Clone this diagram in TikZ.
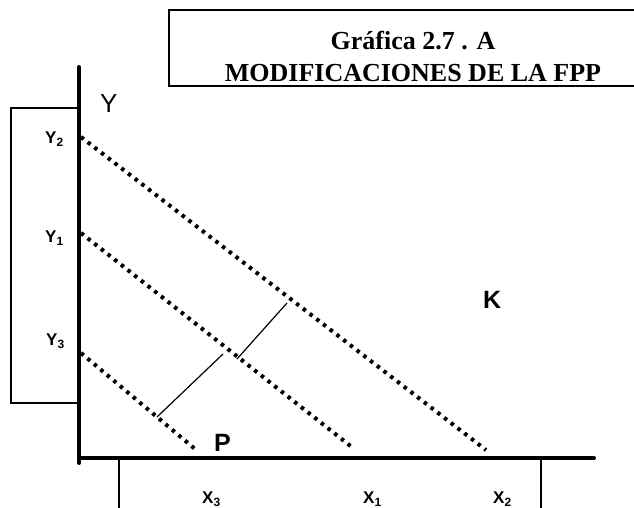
\documentclass[tikz,border=0pt]{standalone}
\usepackage{fontspec}
\setmainfont{Liberation Sans}
\newfontfamily\titlefont{Liberation Serif}
\usetikzlibrary{positioning}
\newcommand{\lowidx}[1]{\raisebox{-3pt}{\fontsize{12}{12}\selectfont #1}}
\begin{document}
\begin{tikzpicture}[x=1pt,y=-1pt,
    axis/.style={line width=4pt,line cap=round},
    frame/.style={line width=1.3pt},
    fpp/.style={line width=4pt,dash pattern=on 3.5pt off 5pt},
    lbl/.style={font=\bfseries\fontsize{17}{17}\selectfont,inner sep=0pt,anchor=base west},
    big/.style={font=\bfseries\fontsize{25}{25}\selectfont,inner sep=0pt,anchor=base west},
    ttl/.style={font=\titlefont\bfseries\fontsize{26}{26}\selectfont,inner sep=0pt,anchor=base}]
  \useasboundingbox (0,0) rectangle (634,508);
  \clip (0,0) rectangle (634,508);
  \draw[line width=2pt] (645,10) -- (169,10) -- (169,86) -- (645,86);
  \node[ttl] (title) at (413,50) {Gráfica 2.7 . A};
  \node[ttl] (subtitle) at (413,82) {MODIFICACIONES DE LA FPP};
  \draw[frame] (79,108) -- (11,108) -- (11,403) -- (79,403);
  \draw[frame] (119,458) -- (119,520) (541,458) -- (541,520);
  \coordinate (o) at (79,458);
  \coordinate (ytop) at (79,67);
  \coordinate (ybot) at (79,463);
  \coordinate (xend) at (594,458);
  \draw[axis] (ytop) -- (ybot);
  \draw[axis] (o) -- (xend);
  \coordinate (y2) at (81,137);
  \coordinate (y1) at (81,233);
  \coordinate (y3) at (81,353);
  \coordinate (x2) at (486,450);
  \coordinate (x1) at (353,448);
  \coordinate (x3) at (195,449);
  \draw[fpp] (y2) -- (x2);
  \draw[fpp] (y1) -- (x1);
  \draw[fpp] (y3) -- (x3);
  \coordinate (s1) at (157,417);
  \coordinate (s2) at (223,354);
  \coordinate (s3) at (237,359);
  \coordinate (s4) at (287,303);
  \draw[line width=1.2pt] (s1) -- (s2) (s3) -- (s4);
  \node[font=\fontsize{26}{26}\selectfont,inner sep=0pt,anchor=base west] (ylab) at (100,113) {Y};
  \node[lbl] (y2lab) at (45,143) {Y\lowidx{2}};
  \node[lbl] (y1lab) at (45,242) {Y\lowidx{1}};
  \node[lbl] (y3lab) at (46,345) {Y\lowidx{3}};
  \node[lbl] (x3lab) at (202,503) {X\lowidx{3}};
  \node[lbl] (x1lab) at (363,503) {X\lowidx{1}};
  \node[lbl] (x2lab) at (493,503) {X\lowidx{2}};
  \node[big] (klab) at (483,308) {K};
  \node[big] (plab) at (214,451) {P};
\end{tikzpicture}
\end{document}
